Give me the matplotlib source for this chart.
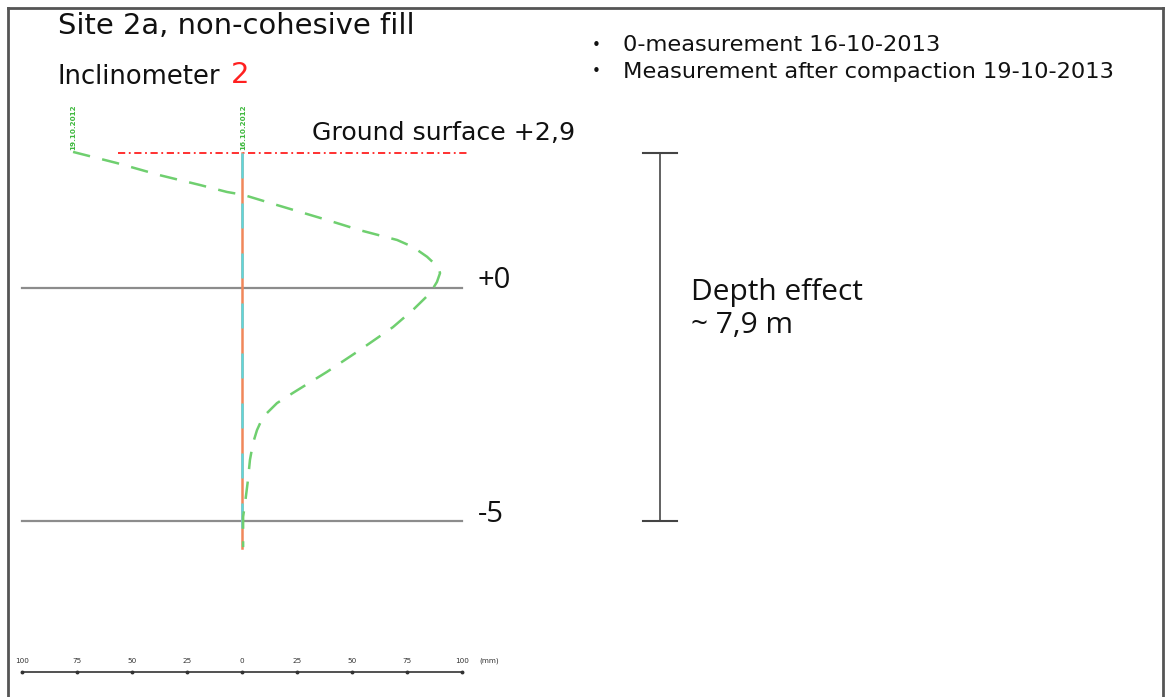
import matplotlib
matplotlib.use("Agg")
import matplotlib.pyplot as plt
from matplotlib.lines import Line2D

# Inclinometer 2 readings: horizontal displacement (mm) against elevation (m)
elev_after = [2.92, 2.68, 2.42, 2.21, 2.06, 2.00, 1.78, 1.46, 1.24, 1.03, 0.88, 0.67,
              0.45, 0.32, 0.13, -0.11, -0.47, -0.84, -1.33, -1.80, -2.25, -2.47,
              -2.77, -3.05, -3.33, -3.69, -4.12, -4.61, -4.91, -5.56]
disp_after = [-76.8, -56.8, -37.3, -19.1, -6.8, 0.5, 15.9, 38.6, 53.6, 70.5, 77.7, 84.1,
              89.1, 90.0, 88.6, 85.5, 77.7, 68.6, 53.6, 38.6, 23.2, 15.9,
              9.5, 6.8, 5.0, 3.6, 2.7, 1.4, 0.5, 0.5]
elev_zero = [2.9, -5.58]
disp_zero = [0.0, 0.0]

ground_level = 2.9
ref_levels = [0.0, -5.0]
ref_labels = ["+0", "-5"]
depth_effect = 7.9
scale_ticks = [-100, -75, -50, -25, 0, 25, 50, 75, 100]

W, H = 1165, 697
fig = plt.figure(figsize=(W / 100, H / 100), dpi=100)
ax = fig.add_axes([0, 0, 1, 1])
ax.set_xlim(-110.0, 419.5)
ax.set_ylim(-8.777, 6.180)
ax.axis("off")


def fx(px):
    return px / W


def fy(py):
    return 1 - py / H


# page frame
for xs, ys in [((8, 8), (8, 697)), ((8, 1163), (8, 8)), ((1163, 1163), (8, 697))]:
    fig.add_artist(Line2D([fx(x) for x in xs], [fy(y) for y in ys],
                          color="#555555", lw=2.0))

# reference levels
for lvl, lab in zip(ref_levels, ref_labels):
    ax.plot([-100, 100], [lvl, lvl], color="#8c8c8c", lw=1.6, zorder=2)
    ax.text(107, lvl + 0.15, lab, fontsize=21, ha="left", va="center",
            family="Open Sans", color="#111111")

# ground surface
ax.plot([-56.4, 103.6], [ground_level, ground_level], color="#ff2020", lw=1.3,
        dashes=(4, 2, 1, 2), zorder=3)
ax.text(32, ground_level + 0.42, "Ground surface +2,9", fontsize=18.2,
        ha="left", va="center", color="#111111")

# zero measurement
ax.plot(disp_zero, elev_zero, color="#f0875a", lw=1.8, zorder=4)
ax.plot(disp_zero, elev_zero, color="#5fd6dc", lw=1.8, dashes=(10, 10), zorder=5)

# measurement after compaction
ax.plot(disp_after, elev_after, color="#6fcf6f", lw=1.8, dashes=(7, 5), zorder=6)

# small date tags at the top of each profile
ax.text(-76.8, 3.45, "19.10.2012", rotation=90, fontsize=5.2, color="#3cb83c",
        ha="center", va="center", fontweight="bold")
ax.text(0.5, 3.45, "16.10.2012", rotation=90, fontsize=5.2, color="#3cb83c",
        ha="center", va="center", fontweight="bold")

# depth effect bar
bar_x = 190
ax.plot([bar_x, bar_x], [ground_level, ground_level - depth_effect],
        color="#555555", lw=1.3)
for yy in (ground_level, ground_level - depth_effect):
    ax.plot([bar_x - 7.7, bar_x + 7.7], [yy, yy], color="#444444", lw=1.5)
ax.text(204, 0.22, "Depth effect\n~ 7,9 m", fontsize=21.5, family="Open Sans",
        ha="left", va="top", linespacing=1.2, color="#111111")

# displacement scale
ax.plot([-100, 100], [-8.23, -8.23], color="#333333", lw=1.2)
ax.plot(scale_ticks, [-8.23] * len(scale_ticks), "o", ms=1.8, color="#333333")
for t in scale_ticks:
    ax.text(t, -8.0, str(abs(t)), fontsize=5.2, ha="center", va="center",
            color="#333333")
ax.text(108, -8.0, "(mm)", fontsize=5.2, ha="left", va="center", color="#333333")

# titles
fig.text(fx(58), fy(26), "Site 2a, non-cohesive fill", fontsize=20.9,
         ha="left", va="center", color="#111111")
fig.text(fx(58), fy(77), "Inclinometer", fontsize=18.6, ha="left", va="center",
         color="#111111")
fig.text(fx(231), fy(75), "2", fontsize=21, ha="left", va="center", color="#ff2020")

# legend notes
for py, txt in [(45, "0-measurement 16-10-2013"),
                (72, "Measurement after compaction 19-10-2013")]:
    fig.text(fx(592), fy(py), "•", fontsize=11, ha="left", va="center", color="#111111")
    fig.text(fx(623), fy(py), txt, fontsize=16.2, ha="left", va="center",
             color="#111111")

fig.savefig("out.png", dpi=100)
